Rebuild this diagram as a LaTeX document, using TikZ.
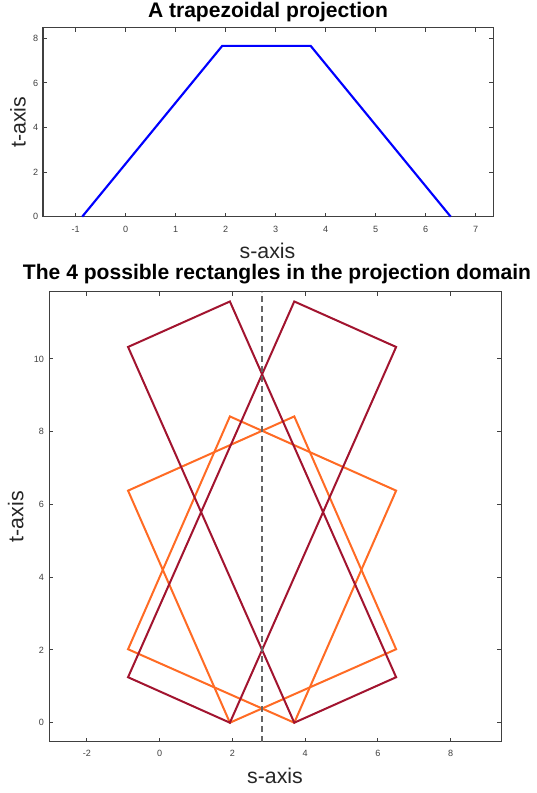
\documentclass[tikz,border=0pt]{standalone}
\usepackage{fontspec}
\setmainfont{Liberation Sans}
\definecolor{axgray}{RGB}{64,64,64}
\definecolor{lblgray}{RGB}{38,38,38}
\definecolor{dred}{RGB}{162,20,47}
\definecolor{orng}{RGB}{255,107,36}
\definecolor{dashgray}{RGB}{102,102,102}
\definecolor{pblue}{RGB}{0,0,255}
\begin{document}
\begin{tikzpicture}[x=0.75pt,y=0.75pt,
  axbox/.style={draw=axgray, line width=0.8pt},
  tickmark/.style={draw=axgray, line width=0.7pt},
  ticklbl/.style={font=\fontsize{6.8}{8}\selectfont, text=axgray, inner sep=0pt},
  plottitle/.style={font=\fontsize{15.8}{18}\selectfont\bfseries, text=black, inner sep=0pt, anchor=base},
  axlabel/.style={font=\fontsize{16}{18}\selectfont, text=lblgray, inner sep=0pt, anchor=base},
  curve/.style={line width=1.6pt},
  rectline/.style={line width=1.5pt, line join=miter}
]
\useasboundingbox (0,0) rectangle (536,793);
\fill[white] (0,0) rectangle (536,793);

% ---------- Top plot ----------
\node[plottitle] (t1) at (268,775.7) {A trapezoidal projection};
\node[axlabel] (xl1) at (267.5,534.7) {s-axis};
\node[axlabel, rotate=90] (yl1) at (25.7,670.7) {t-axis};
\begin{scope}[shift={(125.7,576.3)}, x=37.5pt, y=16.72pt]
  \draw[axbox] (-1.654,0) rectangle (7.352,8.466);
  \foreach \v in {-1,0,...,7} {
    \draw[tickmark] (\v,0) -- ++(0,3pt);
    \draw[tickmark] (\v,8.466) -- ++(0,-3pt);
    \node[ticklbl, yshift=-9.2pt] (xt1\v) at (\v,0) {\v};
  }
  \foreach \v in {0,2,...,8} {
    \draw[tickmark] (-1.654,\v) -- ++(3pt,0);
    \draw[tickmark] (7.352,\v) -- ++(-3pt,0);
    \node[ticklbl, anchor=east, xshift=-3.5pt] (yt1\v) at (-1.654,\v) {\v};
  }
  \draw[curve, pblue] (-0.87,0) -- (1.93,7.66) -- (3.70,7.66) -- (6.50,0);
\end{scope}

% ---------- Bottom plot ----------
\node[plottitle] (t2) at (277,513) {The 4 possible rectangles in the projection domain};
\node[axlabel] (xl2) at (275,9.7) {s-axis};
\node[axlabel, rotate=90] (yl2) at (23.3,276.3) {t-axis};
\begin{scope}[shift={(159.7,70.3)}, x=27.28pt, y=27.28pt]
  \draw[axbox] (-3.04,-0.522) rectangle (9.385,11.85);
  \foreach \v in {-2,0,...,8} {
    \draw[tickmark] (\v,-0.522) -- ++(0,3pt);
    \draw[tickmark] (\v,11.85) -- ++(0,-3pt);
    \node[ticklbl, yshift=-8.7pt] (xt2\v) at (\v,-0.522) {\v};
  }
  \foreach \v in {0,2,...,10} {
    \draw[tickmark] (-3.04,\v) -- ++(3pt,0);
    \draw[tickmark] (9.385,\v) -- ++(-3pt,0);
    \node[ticklbl, anchor=east, xshift=-3.75pt] (yt2\v) at (-3.04,\v) {\v};
  }
  % orange rectangles
  \draw[rectline, orng] (-0.87,2.02) -- (3.70,0) -- (6.50,6.38) -- (1.93,8.42) -- cycle;
  \draw[rectline, orng] (6.50,2.02) -- (1.93,0) -- (-0.87,6.38) -- (3.70,8.42) -- cycle;
  % dark red rectangles
  \draw[rectline, dred] (-0.87,1.25) -- (1.93,0) -- (6.50,10.33) -- (3.70,11.58) -- cycle;
  \draw[rectline, dred] (6.50,1.25) -- (3.70,0) -- (-0.87,10.33) -- (1.93,11.58) -- cycle;
  % dashed centre line
  \draw[dashgray, line width=1.5pt, dash pattern=on 4.5pt off 3pt] (2.8,-0.522) -- (2.8,11.85);
\end{scope}
\end{tikzpicture}
\end{document}
